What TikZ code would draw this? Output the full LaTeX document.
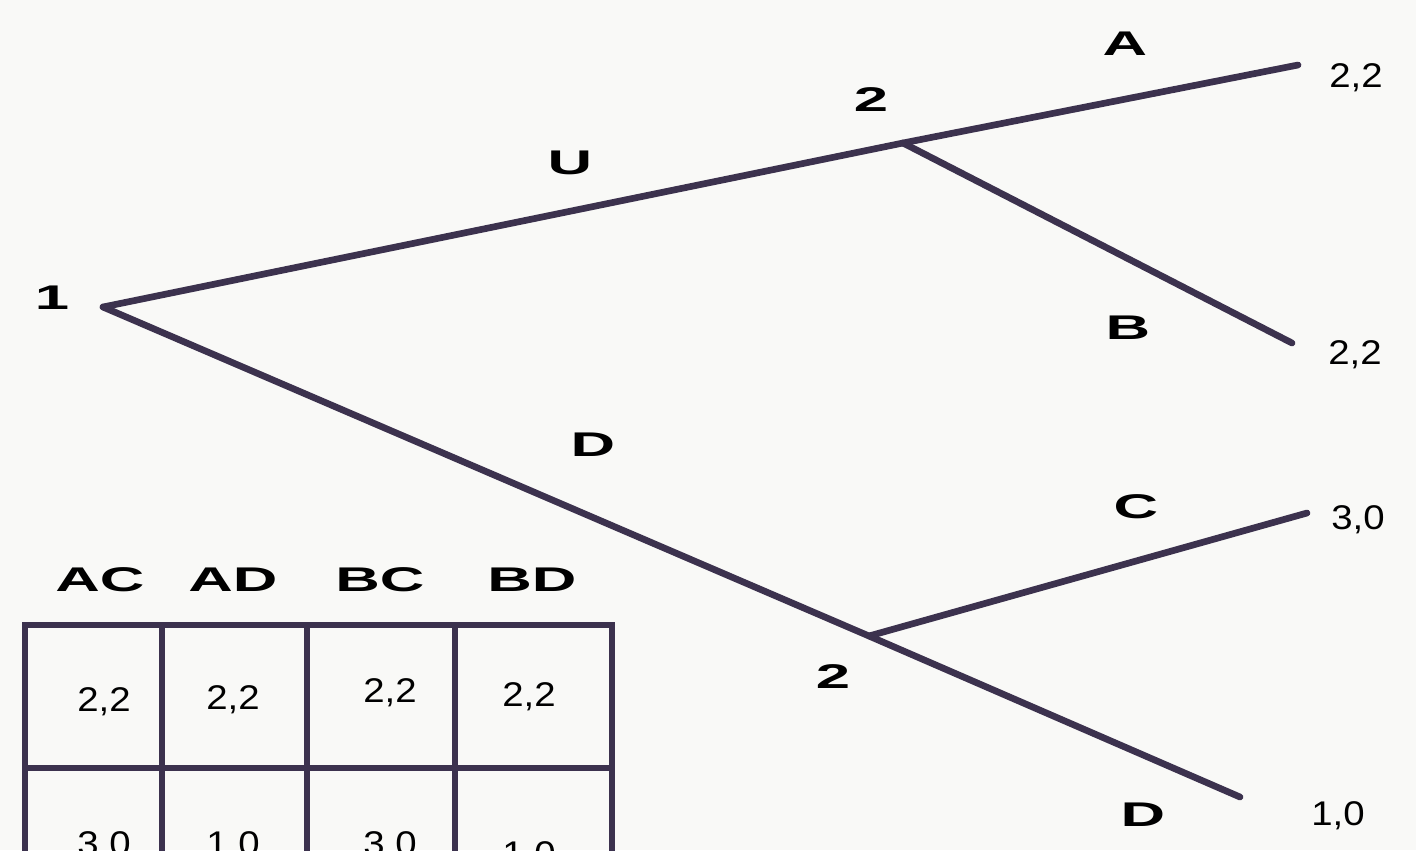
\documentclass[tikz,border=0pt]{standalone}
\usepackage{fontspec}
\setmainfont{Liberation Sans}
\definecolor{ink}{RGB}{60,50,78}
\definecolor{paper}{RGB}{249,249,247}
\tikzset{
  branch/.style={line width=3.8pt, color=ink, line cap=round},
  gridline/.style={line width=3.2pt, color=ink},
  move/.style={font=\bfseries\fontsize{19.5}{19.5}\selectfont, xscale=1.8, inner sep=0pt},
  payoff/.style={font=\fontsize{19.5}{19.5}\selectfont, xscale=1.12, inner sep=0pt},
}
\begin{document}
\begin{tikzpicture}[x=0.02cm, y=-0.02cm]
	\useasboundingbox (0,0) rectangle (1416,850);
	\clip (0,0) rectangle (1416,850);
	\fill[paper] (0,0) rectangle (1416,850);
	
	% 1. 决策点与终点
	\coordinate (root) at (103,307);
	\coordinate (up) at (903,143);
	\coordinate (down) at (869,636);
	\coordinate (endA) at (1298,65);
	\coordinate (endB) at (1292,343);
	\coordinate (endC) at (1307,513);
	\coordinate (endD) at (1240,797);
	
	% 2. 博弈树分支
	\draw[branch] (root) -- (up);
	\draw[branch] (root) -- (down) -- (endD);
	\draw[branch] (up) -- (endA);
	\draw[branch] (up) -- (endB);
	\draw[branch] (down) -- (endC);
	
	% 3. 参与人与行动标签
	\node[move] (pl1) at (52,298) {1};
	\node[move] (pl2u) at (871,100) {2};
	\node[move] (pl2d) at (833,677) {2};
	\node[move] (actU) at (570,163) {U};
	\node[move] (actD) at (593,445) {D};
	\node[move] (actA) at (1125,44) {A};
	\node[move] (actB) at (1128,328) {B};
	\node[move] (actC) at (1136,507) {C};
	\node[move] (actD2) at (1143,815) {D};
	
	% 4. 收益
	\node[payoff] (payA) at (1356,78) {2,2};
	\node[payoff] (payB) at (1355,355) {2,2};
	\node[payoff] (payC) at (1358,520) {3,0};
	\node[payoff] (payD) at (1338,816) {1,0};
	
	% 5. 策略式表格
	\draw[gridline] (25,625) rectangle (612,900);
	\draw[gridline] (25,768) -- (612,768);
	\draw[gridline] (162,625) -- (162,900);
	\draw[gridline] (307,625) -- (307,900);
	\draw[gridline] (455,625) -- (455,900);
	
	\node[move] (colAC) at (100,580) {AC};
	\node[move] (colAD) at (233,580) {AD};
	\node[move] (colBC) at (380,580) {BC};
	\node[move] (colBD) at (532,580) {BD};
	
	\node[payoff] (c11) at (104,702) {2,2};
	\node[payoff] (c12) at (233,700) {2,2};
	\node[payoff] (c13) at (390,693) {2,2};
	\node[payoff] (c14) at (529,697) {2,2};
	\node[payoff] (c21) at (104,846) {3,0};
	\node[payoff] (c22) at (233,846) {1,0};
	\node[payoff] (c23) at (390,846) {3,0};
	\node[payoff] (c24) at (529,856) {1,0};
\end{tikzpicture}
\end{document}
